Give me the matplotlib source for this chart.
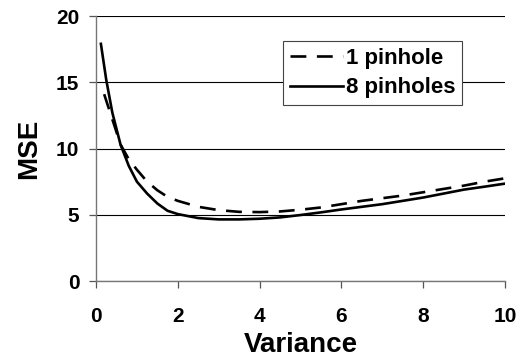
import matplotlib
matplotlib.use("Agg")
import matplotlib.pyplot as plt

plt.rcParams['font.family'] = ['Liberation Sans', 'DejaVu Sans']

# Data
x_one = [0.2, 0.4, 0.6, 0.8, 1.0, 1.25, 1.5, 1.75, 2.0, 2.5, 3.0, 3.5, 4.0, 4.5,
         5.0, 5.5, 6.0, 6.5, 7.0, 7.5, 8.0, 8.5, 9.0, 9.5, 10.0]
y_one = [14.1, 12.2, 10.3, 9.2, 8.4, 7.5, 6.85, 6.35, 6.05, 5.6, 5.35, 5.22, 5.2, 5.25,
         5.38, 5.55, 5.8, 6.05, 6.25, 6.45, 6.7, 6.95, 7.2, 7.5, 7.75]

x_eight = [0.12, 0.25, 0.4, 0.6, 0.8, 1.0, 1.25, 1.5, 1.75, 2.0, 2.5, 3.0, 3.5, 4.0,
           4.5, 5.0, 5.5, 6.0, 6.5, 7.0, 7.5, 8.0, 8.5, 9.0, 9.5, 10.0]
y_eight = [17.9, 15.2, 12.7, 10.3, 8.7, 7.5, 6.6, 5.85, 5.3, 5.05, 4.75, 4.65, 4.65, 4.7,
           4.8, 4.98, 5.18, 5.4, 5.6, 5.8, 6.05, 6.3, 6.6, 6.9, 7.12, 7.35]

labels = ["1 pinhole", "8 pinholes"]
x_ticks = [0, 2, 4, 6, 8, 10]
y_ticks = [0, 5, 10, 15, 20]

fig = plt.figure(figsize=(5.18, 3.64), dpi=100)
ax = fig.add_axes([0.1853, 0.228, 0.7896, 0.728])

ax.plot(x_one, y_one, color='black', lw=1.9, dashes=(6, 4), label=labels[0])
ax.plot(x_eight, y_eight, color='black', lw=1.9, label=labels[1])

ax.set_xlim(0, 10)
ax.set_ylim(0, 20)
ax.set_xticks(x_ticks)
ax.set_yticks(y_ticks)
ax.grid(axis='y', color='black', lw=0.8)
ax.set_axisbelow(True)

for s in ['top', 'right']:
    ax.spines[s].set_visible(False)
for s in ['left', 'bottom']:
    ax.spines[s].set_color('#777777')
    ax.spines[s].set_linewidth(1.0)

ax.tick_params(axis='both', direction='out', length=5, width=0.9, color='#555555',
               labelsize=15)
ax.tick_params(axis='x', pad=14)
ax.tick_params(axis='y', pad=7)
for t in ax.get_xticklabels() + ax.get_yticklabels():
    t.set_fontweight('bold')

ax.set_xlabel('Variance', fontsize=20, fontweight='bold', labelpad=4)
ax.set_ylabel('MSE', fontsize=20, fontweight='bold', labelpad=10)

leg = ax.legend(loc='upper left', bbox_to_anchor=(0.457, 0.906), fancybox=False,
                framealpha=1, edgecolor='#444444', handlelength=2.4,
                prop={'size': 16, 'weight': 'bold'}, borderpad=0.3,
                labelspacing=0.4, handletextpad=0.15, borderaxespad=0)
leg.get_frame().set_linewidth(0.8)

fig.savefig('out.png', dpi=100)
